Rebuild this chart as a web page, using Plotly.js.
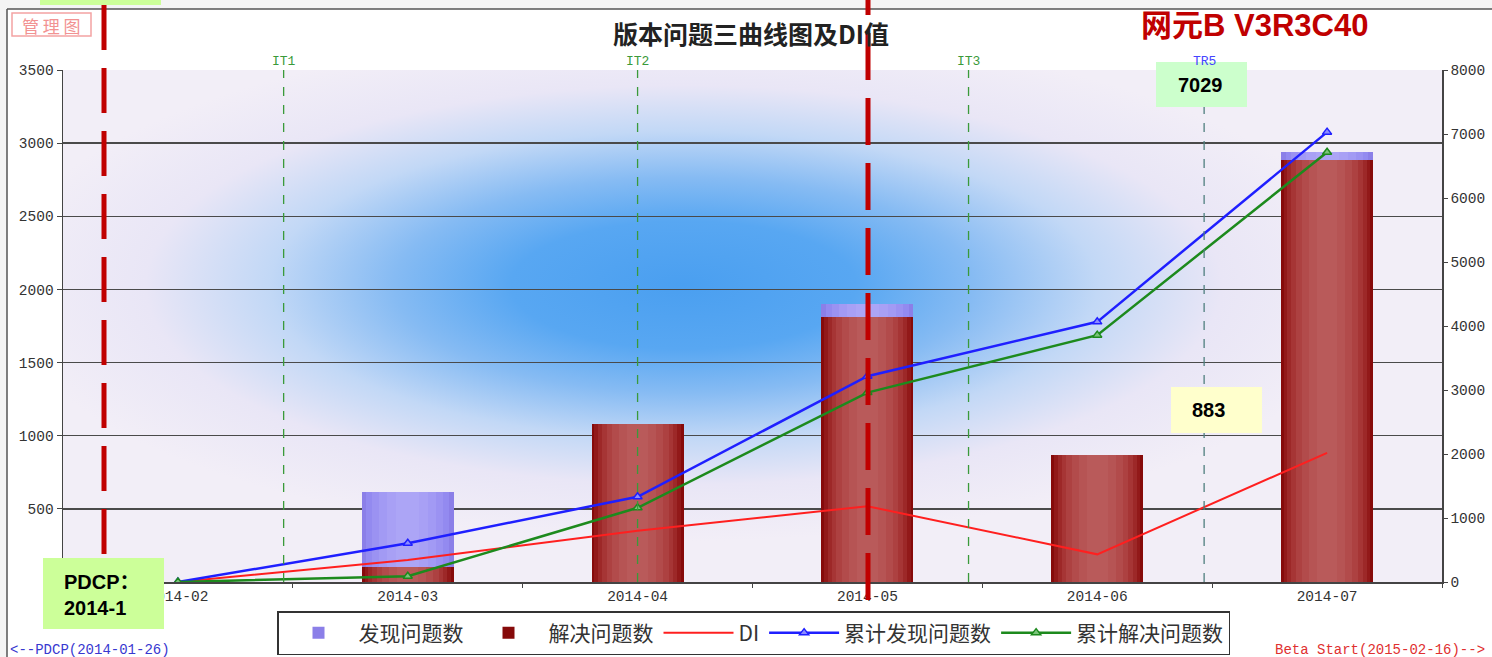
<!DOCTYPE html>
<html>
<head>
<meta charset="utf-8">
<script src="https://cdn.plot.ly/plotly-3.0.1.min.js"></script>
<style>
html,body{margin:0;padding:0;background:#ffffff;overflow:hidden;}
#chart{width:1492px;height:657px;}
</style>
</head>
<body>
<div id="chart"></div>
<script>
// ---------------- data ----------------
const categories = ['2014-02','2014-03','2014-04','2014-05','2014-06','2014-07'];
const foundIssues = [0, 615, 1080, 1898, 870, 2938];        // 发现问题数 (left axis)
const resolvedIssues = [0, 100, 1080, 1809, 870, 2882];     // 解决问题数 (left axis)
const diValues = [0, 150, 350, 518, 189, 883];              // DI (left axis)
const cumFound = [0, 605, 1332, 3216, 4065, 7029];          // 累计发现问题数 (right axis)
const cumResolved = [0, 90, 1160, 2960, 3857, 6714];        // 累计解决问题数 (right axis)
const leftTicks = [500, 1000, 1500, 2000, 2500, 3000, 3500];
const rightTicks = [0, 1000, 2000, 3000, 4000, 5000, 6000, 7000, 8000];
const milestoneLabels = ['IT1', 'IT2', 'IT3', 'TR5'];
const milestonePositions = [0.46, 2.0, 3.44, 4.465];        // category-index positions
const seriesNames = ['发现问题数', '解决问题数', 'DI', '累计发现问题数', '累计解决问题数'];

// ---------------- geometry helpers (page pixels -> paper) ----------------
const W = 1492, H = 657;
const L = 63, R = 1442, T = 70, B = 582;
const px = x => (x - L) / (R - L);
const py = y => (B - y) / (B - T);

// ---------------- styles ----------------
const purpleLayers = [
  {w: 0.40, c: '#8b7fe8'}, {w: 0.36, c: '#938af0'}, {w: 0.31, c: '#9b92f2'},
  {w: 0.25, c: '#a29af4'}, {w: 0.18, c: '#a8a0f5'}, {w: 0.10, c: '#aca5f6'}
];
const redLayers = [
  {w: 0.40, c: '#860a0a'}, {w: 0.375, c: '#921919'}, {w: 0.345, c: '#9d2828'},
  {w: 0.31, c: '#a63535'}, {w: 0.27, c: '#ad4141'}, {w: 0.22, c: '#b24b4b'},
  {w: 0.16, c: '#b65454'}, {w: 0.09, c: '#b95a5a'}
];
const monoFont = 'Liberation Mono, DejaVu Sans Mono, monospace';
const cjkFont = 'Noto Sans CJK SC, sans-serif';
const boldFont = 'Liberation Sans, Arial, Noto Sans CJK SC, sans-serif';

const traces = [];
purpleLayers.forEach((s, i) => {
  traces.push({
    type: 'bar', x: categories, y: foundIssues, width: s.w, name: seriesNames[0],
    legendgroup: 'found', showlegend: i === 0, hoverinfo: 'skip',
    marker: {color: s.c, line: {width: 0}}, yaxis: 'y'
  });
});
redLayers.forEach((s, i) => {
  traces.push({
    type: 'bar', x: categories, y: resolvedIssues, width: s.w, name: seriesNames[1],
    legendgroup: 'resolved', showlegend: i === 0, hoverinfo: 'skip',
    marker: {color: s.c, line: {width: 0}}, yaxis: 'y'
  });
});
traces.push({
  type: 'scatter', mode: 'lines', x: categories, y: diValues, name: seriesNames[2],
  line: {color: '#ff1f1f', width: 2}, yaxis: 'y', hoverinfo: 'skip'
});
traces.push({
  type: 'scatter', mode: 'lines+markers', x: categories, y: cumFound, name: seriesNames[3],
  line: {color: '#1f1fff', width: 2.5},
  marker: {symbol: 'triangle-up', size: 8, color: '#8c8cff', line: {color: '#1f1fff', width: 1.5}},
  yaxis: 'y2', hoverinfo: 'skip'
});
traces.push({
  type: 'scatter', mode: 'lines+markers', x: categories, y: cumResolved, name: seriesNames[4],
  line: {color: '#1d8a1d', width: 2.5},
  marker: {symbol: 'triangle-up', size: 8, color: '#7cc47c', line: {color: '#1d8a1d', width: 1.5}},
  yaxis: 'y2', hoverinfo: 'skip'
});

// background glow for plot area
const bgSvg = "<svg xmlns='http://www.w3.org/2000/svg' width='1379' height='512' viewBox='0 0 1379 512' preserveAspectRatio='none'>" +
  "<defs><radialGradient id='g' cx='0.45' cy='0.42' r='0.5' gradientUnits='objectBoundingBox'>" +
  "<stop offset='0' stop-color='#4a9ff0'/>" +
  "<stop offset='0.25' stop-color='#58a7f2'/>" +
  "<stop offset='0.42' stop-color='#86bbf3'/>" +
  "<stop offset='0.60' stop-color='#c2d8f6'/>" +
  "<stop offset='0.78' stop-color='#e9e6f6'/>" +
  "<stop offset='1' stop-color='#f2eef7'/>" +
  "</radialGradient></defs>" +
  "<rect width='1379' height='512' fill='#f2eef7'/>" +
  "<rect width='1379' height='512' fill='url(#g)'/></svg>";
const bgUri = 'data:image/svg+xml;charset=utf-8,' + encodeURIComponent(bgSvg);

const shapes = [];
// grey surroundings + frame
shapes.push({type: 'rect', xref: 'paper', yref: 'paper', x0: px(0), x1: px(7), y0: py(0), y1: py(660), fillcolor: '#f4f4f4', line: {width: 0}, layer: 'below'});
shapes.push({type: 'rect', xref: 'paper', yref: 'paper', x0: px(0), x1: px(1500), y0: py(0), y1: py(9), fillcolor: '#f4f4f4', line: {width: 0}, layer: 'below'});
shapes.push({type: 'line', xref: 'paper', yref: 'paper', x0: px(7), x1: px(1500), y0: py(9), y1: py(9), line: {color: '#555', width: 1.5}});
shapes.push({type: 'line', xref: 'paper', yref: 'paper', x0: px(7), x1: px(7), y0: py(9), y1: py(660), line: {color: '#555', width: 1.5}});
// 管理图 stamp
shapes.push({type: 'rect', xref: 'paper', yref: 'paper', x0: px(12), x1: px(91), y0: py(13), y1: py(36), line: {color: '#f4a3a3', width: 1.5}});
// milestone lines
milestonePositions.forEach((p, i) => {
  shapes.push({type: 'line', xref: 'x', yref: 'paper', x0: p, x1: p, y0: 0, y1: 1,
    line: {color: i === 3 ? '#4f7f7f' : '#3a9a3a', width: 1.3, dash: 'dash'}, layer: 'above'});
});
// red dashed markers on the slide
shapes.push({type: 'line', xref: 'paper', yref: 'paper', x0: px(104), x1: px(104), y0: py(5), y1: py(625),
  line: {color: '#c00000', width: 5, dash: '45px,18px'}});
shapes.push({type: 'line', xref: 'paper', yref: 'paper', x0: px(868), x1: px(868), y0: py(-32), y1: py(605),
  line: {color: '#c00000', width: 5, dash: '47px,18px'}});
// call-out boxes
shapes.push({type: 'rect', xref: 'paper', yref: 'paper', x0: px(40), x1: px(161), y0: py(-5), y1: py(5), fillcolor: '#ccff99', line: {width: 0}});
shapes.push({type: 'rect', xref: 'paper', yref: 'paper', x0: px(43), x1: px(164), y0: py(558), y1: py(629), fillcolor: '#ccff99', line: {width: 0}});
shapes.push({type: 'rect', xref: 'paper', yref: 'paper', x0: px(1156), x1: px(1247), y0: py(62), y1: py(107), fillcolor: '#ccffcc', line: {width: 0}});
shapes.push({type: 'rect', xref: 'paper', yref: 'paper', x0: px(1171), x1: px(1262), y0: py(387), y1: py(433), fillcolor: '#ffffcc', line: {width: 0}});

const annotations = [];
milestonePositions.forEach((p, i) => {
  annotations.push({xref: 'x', yref: 'paper', x: p, y: 1, yanchor: 'bottom', xanchor: 'center', showarrow: false,
    text: milestoneLabels[i], font: {family: monoFont, size: 13, color: i === 3 ? '#4545ff' : '#3a9a3a'}, yshift: -1});
});
annotations.push({xref: 'paper', yref: 'paper', x: px(1200), y: py(85), xanchor: 'center', yanchor: 'middle', showarrow: false,
  text: '7029', font: {family: boldFont, size: 20, color: '#000', weight: 700}});
annotations.push({xref: 'paper', yref: 'paper', x: px(1208), y: py(410), xanchor: 'center', yanchor: 'middle', showarrow: false,
  text: '883', font: {family: boldFont, size: 20, color: '#000', weight: 700}});
annotations.push({xref: 'paper', yref: 'paper', x: px(62), y: py(595), xanchor: 'left', yanchor: 'middle', showarrow: false, align: 'left',
  text: 'PDCP：<br>2014-1', font: {family: boldFont, size: 20, color: '#000', weight: 700}});
annotations.push({xref: 'paper', yref: 'paper', x: px(1254), y: py(25), xanchor: 'center', yanchor: 'middle', showarrow: false,
  text: '网元B V3R3C40', font: {family: boldFont, size: 31, color: '#c00000', weight: 700}});
annotations.push({xref: 'paper', yref: 'paper', x: px(51.5), y: py(25), xanchor: 'center', yanchor: 'middle', showarrow: false,
  text: '管&nbsp;理&nbsp;图', font: {family: cjkFont, size: 17, color: '#f29292'}});
annotations.push({xref: 'paper', yref: 'paper', x: px(8), y: py(650), xanchor: 'left', yanchor: 'middle', showarrow: false,
  text: '&lt;--PDCP(2014-01-26)', font: {family: monoFont, size: 14, color: '#3838d0'}});
annotations.push({xref: 'paper', yref: 'paper', x: px(1273), y: py(650), xanchor: 'left', yanchor: 'middle', showarrow: false,
  text: 'Beta Start(2015-02-16)--&gt;', font: {family: monoFont, size: 14, color: '#e03030'}});

const tickFont = {family: monoFont, size: 14.5, color: '#333'};

const layout = {
  width: W, height: H,
  margin: {l: L, r: W - R, t: T, b: H - B, pad: 0, autoexpand: false},
  paper_bgcolor: '#ffffff',
  plot_bgcolor: 'rgba(0,0,0,0)',
  barmode: 'overlay',
  bargap: 0,
  showlegend: true,
  hovermode: false,
  title: {
    text: '版本问题三曲线图及DI值',
    font: {family: cjkFont, size: 25, color: '#222', weight: 700},
    xref: 'container', yref: 'container', x: 751 / W, xanchor: 'center', y: 1 - 35 / H, yanchor: 'middle'
  },
  xaxis: {
    type: 'category', range: [-0.5, 5.5], showline: true, linecolor: '#444', linewidth: 1.5,
    ticks: 'outside', tickson: 'boundaries', ticklen: 4, tickcolor: '#444', tickfont: tickFont,
    showgrid: false, zeroline: false, fixedrange: true, automargin: false
  },
  yaxis: {
    range: [0, 3500], tickmode: 'array', tickvals: leftTicks, ticktext: leftTicks.map(String),
    showline: true, linecolor: '#444', linewidth: 1.5, ticks: 'outside', ticklen: 5, tickcolor: '#444',
    tickfont: tickFont, showgrid: true, gridcolor: '#4a4a4a', gridwidth: 1.3, zeroline: false, fixedrange: true, automargin: false
  },
  yaxis2: {
    overlaying: 'y', side: 'right', range: [0, 8000], tickmode: 'array', tickvals: rightTicks, ticktext: rightTicks.map(String),
    showline: true, linecolor: '#444', linewidth: 1.5, ticks: 'outside', ticklen: 4, tickcolor: '#444',
    tickfont: tickFont, showgrid: false, zeroline: false, fixedrange: true, automargin: false
  },
  legend: {
    orientation: 'h', xref: 'container', yref: 'container',
    x: 753.5 / W, xanchor: 'center', y: 1 - 633 / H, yanchor: 'middle',
    bordercolor: '#333', borderwidth: 1.5, bgcolor: '#ffffff',
    font: {family: cjkFont, size: 21, color: '#333'}, itemwidth: 70, traceorder: 'normal'
  },
  images: [{
    source: bgUri, xref: 'paper', yref: 'paper', x: 0, y: 1, sizex: 1, sizey: 1,
    xanchor: 'left', yanchor: 'top', sizing: 'stretch', layer: 'below'
  }],
  shapes: shapes,
  annotations: annotations
};

Plotly.newPlot('chart', traces, layout, {displayModeBar: false, staticPlot: true});
</script>
</body>
</html>
